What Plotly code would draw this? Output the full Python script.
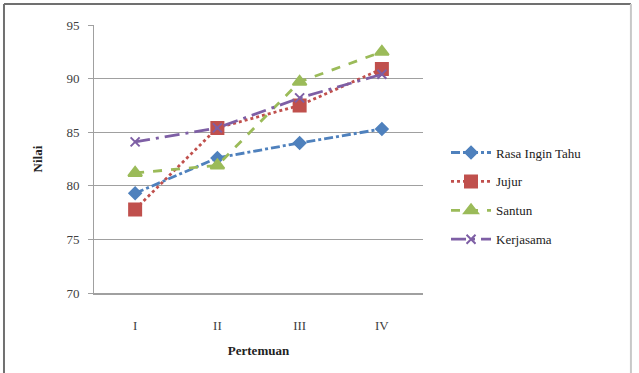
import plotly.graph_objects as go

pertemuan = ["I", "II", "III", "IV"]
rasa_ingin_tahu = [79.3, 82.6, 84.0, 85.3]
jujur = [77.8, 85.4, 87.5, 90.9]
santun = [81.2, 81.9, 89.7, 92.5]
kerjasama = [84.1, 85.4, 88.2, 90.4]

y_ticks = [70, 75, 80, 85, 90, 95]

serif = "Liberation Serif"
x_pos = list(range(1, len(pertemuan) + 1))

series = [
    ("Rasa Ingin Tahu", rasa_ingin_tahu, "#4F81BD", "dashdot", "diamond", 9),
    ("Jujur", jujur, "#C0504D", "dot", "square", 12),
    ("Santun", santun, "#9BBB59", "dash", "triangle-up", 12),
    ("Kerjasama", kerjasama, "#7E5FA5", "longdashdot", "x-thin-open", 9),
]

fig = go.Figure()
for name, vals, color, dash, symbol, size in series:
    fig.add_trace(go.Scatter(
        x=x_pos, y=vals, name=name, mode="lines+markers", legendgroup=name,
        line=dict(color=color, width=2.8, dash=dash),
        marker=dict(symbol=symbol, size=size, color=color,
                    line=dict(color=color, width=2)),
    ))

# outer chart frame (no visible bottom edge)
frame = [
    dict(x0=-0.2736, x1=-0.2736, y0=-0.32, y1=1.078, color="#707070", w=2),
    dict(x0=-0.2736, x1=1.632, y0=1.078, y1=1.078, color="#707070", w=2),
    dict(x0=1.632, x1=1.632, y0=-0.32, y1=1.078, color="#c8c8c8", w=2),
]
shapes = [dict(type="line", xref="paper", yref="paper", x0=f["x0"], x1=f["x1"],
               y0=f["y0"], y1=f["y1"], line=dict(color=f["color"], width=f["w"]))
          for f in frame]

fig.update_layout(
    width=639, height=373,
    margin=dict(l=94, r=216, t=25, b=80),
    paper_bgcolor="white", plot_bgcolor="white",
    font=dict(family=serif, size=12, color="#404040"),
    showlegend=True,
    legend=dict(x=1.07, y=0.58, xanchor="left", yanchor="top",
                font=dict(family=serif, size=13, color="#222222"),
                tracegroupgap=9, itemwidth=40),
    xaxis=dict(
        range=[0.5, 4.5], tickvals=x_pos, ticktext=pertemuan,
        showgrid=False, showline=True, linecolor="#a0a0a0", linewidth=1.5,
        ticks="outside", ticklen=20, tickcolor="rgba(0,0,0,0)",
        tickfont=dict(family=serif, size=13), zeroline=False,
        title=dict(text="<b>Pertemuan</b>", font=dict(family=serif, size=13, color="#222222"),
                   standoff=14),
    ),
    yaxis=dict(
        range=[70, 95], tickvals=y_ticks, showgrid=True, gridcolor="#a0a0a0",
        gridwidth=1, showline=True, linecolor="#a0a0a0", linewidth=1,
        ticks="outside", ticklen=5, tickcolor="#a0a0a0", ticklabelstandoff=6,
        tickfont=dict(family=serif, size=13), zeroline=False,
        title=dict(text="<b>Nilai</b>", font=dict(family=serif, size=13, color="#222222"),
                   standoff=20),
    ),
    shapes=shapes,
)

fig.write_html("out.html")
